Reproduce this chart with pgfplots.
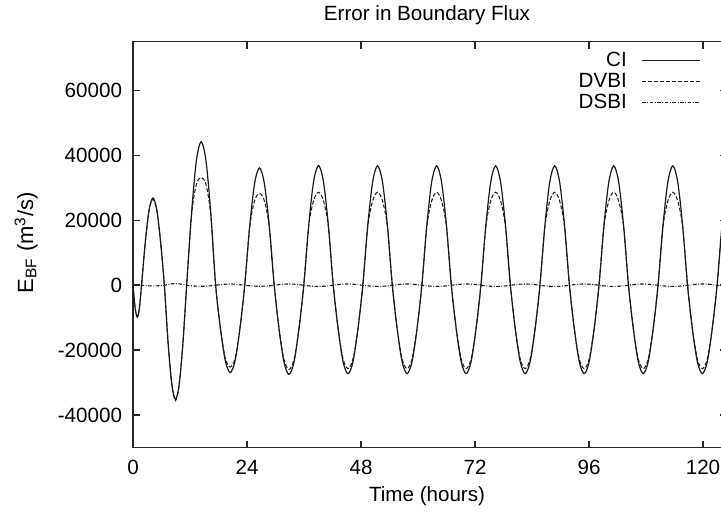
\documentclass[border=0pt]{standalone}
\usepackage{fontspec}
\setmainfont{Liberation Sans}
\usepackage{pgfplots}
\usepackage{pgfplotstable}
\pgfplotsset{compat=1.18}

% t  CI  DVBI  DSBI
\pgfplotstableread{
t ci dv ds
0 0 0 0
0.45 -7000 -7000 40
0.9 -9770 -9770 80
1.35 -7000 -7000 40
1.8 0 0 0
2.6 13450 13450 -100
3.4 23300 23100 -170
4.2 26900 26500 -200
5.0 23300 23100 -170
5.8 13450 13450 -100
6.6 0 0 0
7.38 -17565 -17565 260
8.17 -30420 -30600 450
8.95 -35130 -35500 520
9.73 -30420 -30600 450
10.52 -17565 -17565 260
11.3 0 0 0
12.32 22100 21500 -150
13.33 38280 31000 -260
14.35 44200 33200 -300
15.37 38280 31000 -260
16.38 22100 21500 -150
17.4 0 0 0
18.42 -13450 -13400 200
19.44 -23300 -22500 345
20.46 -26900 -25170 400
21.48 -23300 -22500 345
22.5 -13450 -13400 200
23.52 0 0 0
24.56 18075 17800 -150
25.59 31310 26000 -260
26.63 36150 28260 -300
27.66 31310 26000 -260
28.70 18075 17800 -150
29.73 0 0 0
30.77 -13715 -13650 200
31.80 -23755 -22900 345
32.84 -27430 -25900 400
33.88 -23755 -22900 345
34.91 -13715 -13650 200
35.95 0 0 0
36.99 18440 18100 -175
38.02 31940 26100 -300
39.06 36880 28660 -350
40.09 31940 26100 -300
41.13 18440 18100 -175
42.16 0 0 0
43.20 -13600 -13550 200
44.23 -23555 -22700 345
45.27 -27200 -25670 400
46.31 -23555 -22700 345
47.34 -13600 -13550 200
48.38 0 0 0
49.42 18385 18050 -175
50.45 31840 26000 -300
51.49 36770 28660 -350
52.52 31840 26000 -300
53.56 18385 18050 -175
54.59 0 0 0
55.63 -13600 -13550 200
56.66 -23555 -22700 345
57.70 -27200 -25670 400
58.74 -23555 -22700 345
59.77 -13600 -13550 200
60.81 0 0 0
61.85 18385 18050 -175
62.88 31840 26000 -300
63.92 36770 28660 -350
64.95 31840 26000 -300
65.99 18385 18050 -175
67.02 0 0 0
68.06 -13600 -13550 200
69.09 -23555 -22700 345
70.13 -27200 -25670 400
71.17 -23555 -22700 345
72.20 -13600 -13550 200
73.24 0 0 0
74.28 18385 18050 -175
75.31 31840 26000 -300
76.35 36770 28660 -350
77.38 31840 26000 -300
78.42 18385 18050 -175
79.45 0 0 0
80.49 -13600 -13550 200
81.52 -23555 -22700 345
82.56 -27200 -25670 400
83.60 -23555 -22700 345
84.63 -13600 -13550 200
85.67 0 0 0
86.71 18385 18050 -175
87.74 31840 26000 -300
88.78 36770 28660 -350
89.81 31840 26000 -300
90.85 18385 18050 -175
91.88 0 0 0
92.92 -13600 -13550 200
93.95 -23555 -22700 345
94.99 -27200 -25670 400
96.03 -23555 -22700 345
97.06 -13600 -13550 200
98.10 0 0 0
99.14 18385 18050 -175
100.17 31840 26000 -300
101.21 36770 28660 -350
102.24 31840 26000 -300
103.28 18385 18050 -175
104.31 0 0 0
105.35 -13600 -13550 200
106.38 -23555 -22700 345
107.42 -27200 -25670 400
108.46 -23555 -22700 345
109.49 -13600 -13550 200
110.53 0 0 0
111.57 18385 18050 -175
112.60 31840 26000 -300
113.64 36770 28660 -350
114.67 31840 26000 -300
115.71 18385 18050 -175
116.74 0 0 0
117.78 -13600 -13550 200
118.81 -23555 -22700 345
119.85 -27200 -25670 400
120.89 -23555 -22700 345
121.92 -13600 -13550 200
122.96 0 0 0
124.00 18385 18050 -175
125.03 31840 26000 -300
}\datatable

\begin{document}
\begin{tikzpicture}
\begin{axis}[
  at={(0,0)}, anchor=south west,
  scale only axis,
  width=297pt, height=203pt,
  xmin=0, xmax=125.05,
  ymin=-50000, ymax=75000,
  xtick={0,24,48,72,96,120},
  ytick={-40000,-20000,0,20000,40000,60000},
  scaled y ticks=false,
  /pgf/number format/1000 sep={},
  /pgf/number format/assume math mode=true,
  font=\fontsize{10.3pt}{12pt}\selectfont,
  axis line style={line width=0.8pt, black!85},
  major tick length=3.5pt,
  every tick/.style={line width=0.8pt, black!85},
  tick pos=both,
  xticklabel style={inner sep=0pt, anchor=north},
  yticklabel style={inner sep=0pt, anchor=east},
  xticklabel shift=6pt,
  yticklabel shift=5.3pt,
  every axis title shift=0pt,
  title={Error in Boundary Flux},
  title style={at={(axis description cs:0.495,1)}, anchor=base, yshift=10.4pt, inner sep=0pt},
  xlabel={Time (hours)},
  xlabel style={at={(axis description cs:0.495,-0.1315)}, anchor=base, inner sep=0pt},
  ylabel={E\textsubscript{BF} (m\textsuperscript{3}/s)},
  ylabel style={at={(axis description cs:-0.168,0.505)}, anchor=base, inner sep=0pt,
    font=\fontsize{11pt}{13pt}\selectfont},
  legend style={at={(axis description cs:1,1)}, anchor=north east,
    xshift=-13pt, yshift=-4.65pt, draw=none, fill=none, inner sep=0pt,
    row sep=1.2pt, column sep=7pt, nodes={inner sep=0.3pt},
    font=\fontsize{10.3pt}{12pt}\selectfont},
  legend cell align=right,
  legend plot pos=right,
  legend image code/.code={\draw[#1] (0pt,0pt) -- (29pt,0pt);},
]
\addplot[smooth, black!90, line width=0.6pt] table[x=t, y=ci] {\datatable};
\addlegendentry{CI}
\addplot[smooth, black!90, line width=0.5pt, dash pattern=on 2pt off 1pt] table[x=t, y=dv] {\datatable};
\addlegendentry{DVBI}
\addplot[smooth, black!90, line width=0.55pt, dash pattern=on 1.8pt off 0.8pt on 0.4pt off 0.8pt] table[x=t, y=ds] {\datatable};
\addlegendentry{DSBI}
\end{axis}
\pgfresetboundingbox
\path (-66.5pt,-32.15pt) rectangle (294pt,223.85pt);
\end{tikzpicture}
\end{document}
